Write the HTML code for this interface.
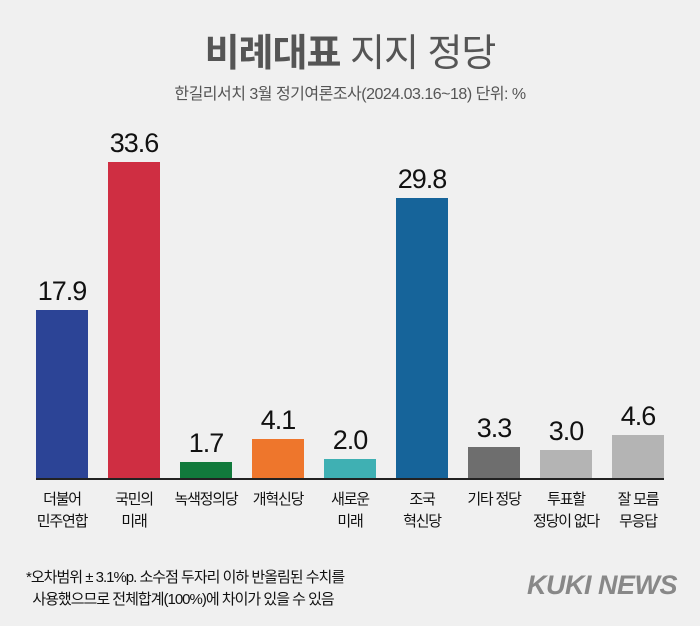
<!DOCTYPE html>
<html><head><meta charset="utf-8"><style>
body{margin:0;width:700px;height:626px;background:#f0f0f0;font-family:"Liberation Sans","Noto Sans CJK KR",sans-serif;position:relative;overflow:hidden}
.t{position:absolute;white-space:nowrap}
.bar{position:absolute;width:52px}
.v{position:absolute;width:100px;text-align:center;font-size:27px;color:#111;letter-spacing:-1px}
.l{position:absolute;width:90px;text-align:center;font-size:15px;line-height:22px;color:#111;letter-spacing:-1.2px}
</style></head><body>
<div class="t" style="left:0;width:700px;text-align:center;top:22px;font-size:38px;color:#555;letter-spacing:-1px"><b>비례대표</b> 지지 정당</div>
<div class="t" style="left:0;width:700px;text-align:center;top:80px;font-size:16px;color:#555;letter-spacing:-0.5px">한길리서치 3월 정기여론조사(2024.03.16~18) 단위: %</div>
<div class="bar" style="left:36px;top:310px;height:168px;background:#2c4496"></div>
<div class="bar" style="left:108px;top:162px;height:316px;background:#cf2e42"></div>
<div class="bar" style="left:180px;top:462px;height:16px;background:#117a3c"></div>
<div class="bar" style="left:252px;top:439px;height:39px;background:#ee762c"></div>
<div class="bar" style="left:324px;top:459px;height:19px;background:#3fb0b3"></div>
<div class="bar" style="left:396px;top:198px;height:280px;background:#16649a"></div>
<div class="bar" style="left:468px;top:447px;height:31px;background:#6e6e6e"></div>
<div class="bar" style="left:540px;top:450px;height:28px;background:#b4b4b4"></div>
<div class="bar" style="left:612px;top:435px;height:43px;background:#b4b4b4"></div>
<div style="position:absolute;left:36px;top:478px;width:628px;height:2px;background:#222"></div>
<div class="v" style="left:12px;top:276px">17.9</div>
<div class="v" style="left:84px;top:128px">33.6</div>
<div class="v" style="left:156px;top:428px">1.7</div>
<div class="v" style="left:228px;top:405px">4.1</div>
<div class="v" style="left:300px;top:425px">2.0</div>
<div class="v" style="left:372px;top:164px">29.8</div>
<div class="v" style="left:444px;top:413px">3.3</div>
<div class="v" style="left:516px;top:416px">3.0</div>
<div class="v" style="left:588px;top:401px">4.6</div>
<div class="l" style="left:17px;top:489px">더불어<br>민주연합</div>
<div class="l" style="left:89px;top:489px">국민의<br>미래</div>
<div class="l" style="left:161px;top:489px">녹색정의당</div>
<div class="l" style="left:233px;top:489px">개혁신당</div>
<div class="l" style="left:305px;top:489px">새로운<br>미래</div>
<div class="l" style="left:377px;top:489px">조국<br>혁신당</div>
<div class="l" style="left:449px;top:489px">기타 정당</div>
<div class="l" style="left:521px;top:489px">투표할<br>정당이 없다</div>
<div class="l" style="left:593px;top:489px">잘 모름<br>무응답</div>
<div class="t" style="left:26px;top:567px;font-size:15px;line-height:22px;color:#111;letter-spacing:-1px">*오차범위 ± 3.1%p. 소수점 두자리 이하 반올림된 수치를<br>&nbsp;&nbsp;사용했으므로 전체합계(100%)에 차이가 있을 수 있음</div>
<div class="t" style="left:527px;top:570px;font-size:27px;font-weight:bold;font-style:italic;color:#888;letter-spacing:-0.5px">KUKI NEWS</div>
</body></html>
